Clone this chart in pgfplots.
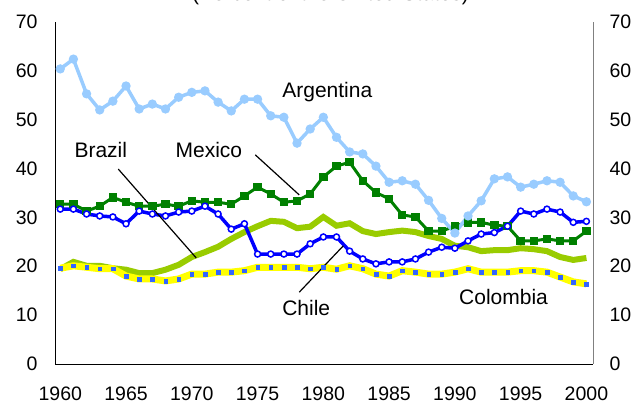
\documentclass[border=0pt]{standalone}
\usepackage{pgfplots}
\pgfplotsset{compat=1.18}
\usepackage{pgfplotstable}
\usepackage{fontspec}
\setmainfont{Liberation Sans}
\definecolor{argc}{RGB}{153,204,255}
\definecolor{mexc}{RGB}{0,128,0}
\definecolor{chic}{RGB}{0,0,255}
\definecolor{brac}{RGB}{153,204,0}
\definecolor{colc}{RGB}{255,255,0}
\definecolor{colm}{RGB}{51,102,255}
\pgfplotstableread{
year arg mex chi bra col
1960 60.4 32.7 31.7 19.4 19.6
1961 62.4 32.7 31.7 20.9 20.1
1962 55.3 31.3 30.7 20.1 19.8
1963 52.0 32.3 30.3 20.1 19.5
1964 53.8 34.1 30.1 19.6 19.5
1965 56.9 33.1 28.7 19.3 18.0
1966 52.2 32.3 31.3 18.6 17.4
1967 53.2 32.3 30.7 18.6 17.4
1968 52.2 32.7 30.3 19.3 17.0
1969 54.6 32.3 31.1 20.3 17.4
1970 55.6 33.4 31.3 21.9 18.4
1971 55.9 33.1 32.3 22.9 18.4
1972 53.6 33.1 30.7 24.0 18.8
1973 51.8 32.7 27.6 25.6 18.8
1974 54.2 34.4 28.7 27.0 19.1
1975 54.2 36.2 22.5 28.2 19.8
1976 50.8 34.8 22.5 29.3 19.8
1977 50.5 33.1 22.5 29.1 19.8
1978 45.2 33.4 22.5 27.8 19.8
1979 48.1 34.8 24.6 28.1 19.5
1980 50.5 38.3 26.0 30.1 19.8
1981 46.4 40.5 26.0 28.3 19.4
1982 43.4 41.3 23.1 28.8 20.1
1983 43.0 37.5 21.5 27.2 19.5
1984 40.5 35.1 20.5 26.6 18.4
1985 37.2 33.8 20.9 27.0 18.0
1986 37.5 30.5 20.9 27.3 19.1
1987 36.8 30.1 21.5 27.0 18.8
1988 33.5 27.2 22.9 26.2 18.4
1989 29.8 27.2 23.9 25.6 18.4
1990 26.8 28.2 23.7 24.2 18.8
1991 30.3 29.0 25.2 23.9 19.5
1992 33.4 29.0 26.6 23.1 18.8
1993 37.9 28.4 26.9 23.3 18.8
1994 38.3 28.2 28.2 23.3 18.8
1995 36.2 25.2 31.3 23.7 19.1
1996 36.8 25.2 30.7 23.5 19.1
1997 37.5 25.6 31.7 23.1 18.8
1998 37.2 25.2 31.1 21.9 17.8
1999 34.4 25.2 29.0 21.3 16.8
2000 33.2 27.2 29.2 21.7 16.4
}\datatable
\begin{document}
\begin{tikzpicture}
\useasboundingbox (0,0) rectangle (641pt,404pt);
\node[anchor=base, font=\fontsize{21}{24}\selectfont, inner sep=0pt] at (330.5pt,403pt) {(Percent of the United States)};
\begin{axis}[
  at={(55pt,40pt)}, anchor=south west,
  scale only axis, width=538pt, height=342pt,
  xmin=1959.6, xmax=2000.5, ymin=0, ymax=70,
  axis x line*=bottom, axis y line*=left,
  axis line style={black, line width=0.8pt, -},
  xtick={1960,1965,...,2000}, ytick={0,10,...,70},
  major tick length=0pt,
  /pgf/number format/assume math mode=true,
  /pgf/number format/1000 sep={},
  tick label style={font=\fontsize{19.5}{22}\selectfont},
  xticklabel style={yshift=-19pt},
  yticklabel style={xshift=-14pt},
  clip=false,
]
\addplot[mexc, line width=3pt, mark=square*, mark size=2.7pt, mark options={solid, fill=mexc}] table[x=year, y=mex] {\datatable};
\addplot[argc, line width=3.5pt, mark=*, mark size=2.8pt, mark options={solid, fill=argc}] table[x=year, y=arg] {\datatable};
\addplot[brac, line width=6pt] table[x=year, y=bra] {\datatable};
\addplot[colc, line width=7pt, mark=square*, mark size=1.8pt, mark options={solid, draw=colm, fill=colm, line width=0.3pt}] table[x=year, y=col] {\datatable};
\addplot[chic, line width=3.5pt, mark=*, mark size=3pt, mark options={solid, fill=white, draw=chic, line width=1.5pt}] table[x=year, y=chi] {\datatable};
\draw[black, line width=1.2pt] (axis cs:1964.41,39.9) -- (axis cs:1970.34,21.7);
\draw[black, line width=1.2pt] (axis cs:1974.83,42.8) -- (axis cs:1978.17,34.6);
\draw[black, line width=1.2pt] (axis cs:1978.17,14.7) -- (axis cs:1981.52,24.2);
\begin{scope}[every node/.style={font=\fontsize{21}{24}\selectfont, inner sep=0pt, anchor=base}]
\node at (axis cs:1980.3,54.5) {Argentina};
\node at (axis cs:1963.08,42.2) {Brazil};
\node at (axis cs:1971.3,42.2) {Mexico};
\node at (axis cs:1978.7,10.0) {Chile};
\node at (axis cs:1993.7,12.1) {Colombia};
\end{scope}
\end{axis}
\begin{axis}[
  at={(55pt,40pt)}, anchor=south west,
  scale only axis, width=538pt, height=342pt,
  xmin=1959.6, xmax=2000.5, ymin=0, ymax=70,
  axis x line=none, axis y line*=right,
  axis line style={gray, line width=0.8pt, -},
  ytick={0,10,...,70},
  major tick length=0pt,
  /pgf/number format/assume math mode=true,
  tick label style={font=\fontsize{19.5}{22}\selectfont},
  yticklabel style={xshift=13pt},
]
\addplot[draw=none] coordinates {(1960,0) (2000,70)};
\end{axis}
\end{tikzpicture}
\end{document}
